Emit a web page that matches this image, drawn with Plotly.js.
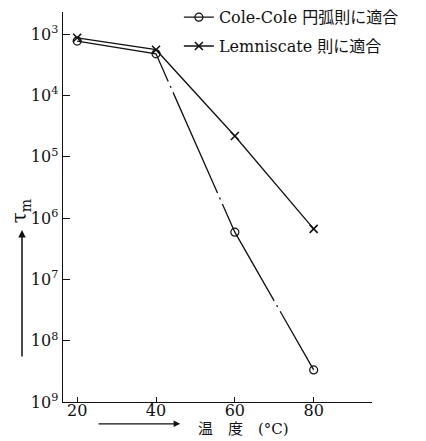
<!DOCTYPE html>
<html><head><meta charset="utf-8">
<script src="https://cdn.plot.ly/plotly-3.0.1.min.js"></script>
<style>html,body{margin:0;padding:0;background:#fff}</style>
</head><body>
<div id="chart" style="width:426px;height:441px"></div>
<script>
const temperature = [20, 40, 60, 80];
const coleCole = [1.3e3, 2.1e3, 1.7e6, 3.0e8];
const lemniscate = [1.15e3, 1.8e3, 4.6e4, 1.5e6];
const yTickVals = [1e3, 1e4, 1e5, 1e6, 1e7, 1e8, 1e9];
const yTickText = ['10<sup>3</sup>','10<sup>4</sup>','10<sup>5</sup>','10<sup>6</sup>','10<sup>7</sup>','10<sup>8</sup>','10<sup>9</sup>'];
const xTickVals = [20, 40, 60, 80];
const names = ['Cole-Cole 円弧則に適合', 'Lemniscate 則に適合'];

const FONT = "DejaVu Serif, Liberation Serif, Noto Sans CJK JP, serif";

const traces = [
  {x: temperature, y: coleCole, name: names[0], mode: 'lines+markers', legendgroup: 'a',
   line: {color: '#111', width: 1.3, dash: '110px,5px,2px,5px'},
   marker: {symbol: 'circle-open', size: 8, color: '#111', line: {width: 1.2}}},
  {x: temperature, y: lemniscate, name: names[1], mode: 'lines+markers', legendgroup: 'b',
   line: {color: '#111', width: 1.3},
   marker: {symbol: 'x-thin-open', size: 8, color: '#111', line: {width: 1.6}}}
];

const layout = {
  width: 426, height: 441,
  margin: {l: 63, r: 54, t: 12, b: 39, autoexpand: false},
  paper_bgcolor: '#fff', plot_bgcolor: '#fff',
  font: {family: FONT, color: '#111', size: 15},
  showlegend: true,
  legend: {x: 0.375, xanchor: 'left', y: 1.03, yanchor: 'top', bgcolor: 'rgba(0,0,0,0)',
           traceorder: 'grouped', tracegroupgap: 5,
           font: {family: FONT, size: 16, color: '#111'}, itemwidth: 30},
  xaxis: {range: [16.4, 94.8], showgrid: false, zeroline: false,
          showline: true, linecolor: '#111', linewidth: 1.3,
          ticks: 'inside', ticklen: 5, tickcolor: '#111', ticklabelstandoff: -7,
          tickvals: xTickVals, tickfont: {family: FONT, size: 16}},
  yaxis: {type: 'log', range: [9, 2.64], showgrid: false, zeroline: false,
          showline: true, linecolor: '#111', linewidth: 1.5,
          ticks: 'inside', ticklen: 7, tickcolor: '#111',
          tickvals: yTickVals, ticktext: yTickText, tickfont: {family: FONT, size: 16}},
  annotations: [
    {xref: 'paper', yref: 'paper', x: -0.138, y: 0.49, xanchor: 'center', yanchor: 'middle',
     text: 'τ<sub>m</sub>', textangle: -90,
     showarrow: false, font: {family: FONT, size: 20, color: '#111'}},
    {xref: 'paper', yref: 'paper', x: -0.1327, y: 0.441, text: '', showarrow: true,
     ax: 0, ay: 128, arrowhead: 2, arrowsize: 1, arrowwidth: 1.5, arrowcolor: '#111'},
    {xref: 'paper', yref: 'paper', x: 0.379, y: -0.056, text: '', showarrow: true,
     ax: -83, ay: 0, arrowhead: 2, arrowsize: 1, arrowwidth: 1.3, arrowcolor: '#111'},
    {xref: 'paper', yref: 'paper', x: 0.43, y: -0.07, xanchor: 'left', yanchor: 'middle',
     text: '温　度　(°C)',
     showarrow: false, font: {family: FONT, size: 15, color: '#111'}}
  ]
};

Plotly.newPlot('chart', traces, layout, {displayModeBar: false, staticPlot: true});
</script>
</body></html>
